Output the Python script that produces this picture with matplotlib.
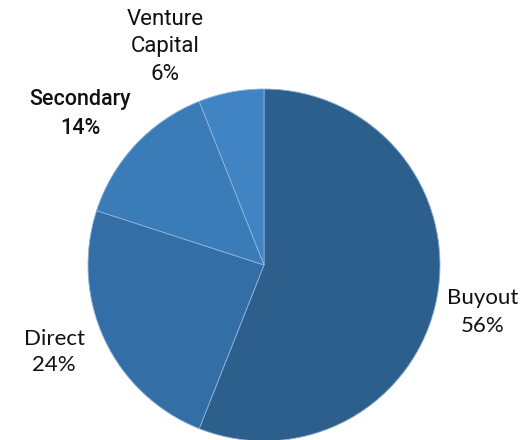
import matplotlib.pyplot as plt

# Allocation shares
categories = ['Buyout', 'Direct', 'Secondary', 'Venture\nCapital']
shares = [56, 24, 14, 6]
colors = ['#2C5F8C', '#336FA6', '#3A7CB8', '#4184C3']

# label anchor points in pie units (radius = 1)
label_pos = [(1.244, -0.267), (-1.193, -0.494), (-1.045, 0.858), (-0.562, 1.239)]
label_font = ['Lato', 'Lato', 'Roboto', 'Roboto']
label_weight = ['normal', 'normal', 'medium', 'normal']
label_size = [16, 16, 15.5, 16]
label_spacing = [1.45, 1.4, 1.55, 1.4]

fig = plt.figure(figsize=(5.29, 4.40), dpi=100)
ax = fig.add_axes([88 / 529, (440 - 441) / 440, 352 / 529, 352 / 440])

wedges, _ = ax.pie(shares, colors=colors, startangle=90, counterclock=False,
                   wedgeprops=dict(edgecolor='#8FB3D9', linewidth=0.6))
ax.set_xlim(-1, 1)
ax.set_ylim(-1, 1)
ax.set_aspect('equal')

for cat, val, (x, y), fam, w, fs, ls in zip(categories, shares, label_pos, label_font,
                                            label_weight, label_size, label_spacing):
    ax.text(x, y, f"{cat}\n{val}%", ha='center', va='center', fontsize=fs,
            family=fam, weight=w, linespacing=ls, color='#111111', clip_on=False)

fig.savefig('out.png', dpi=100)
